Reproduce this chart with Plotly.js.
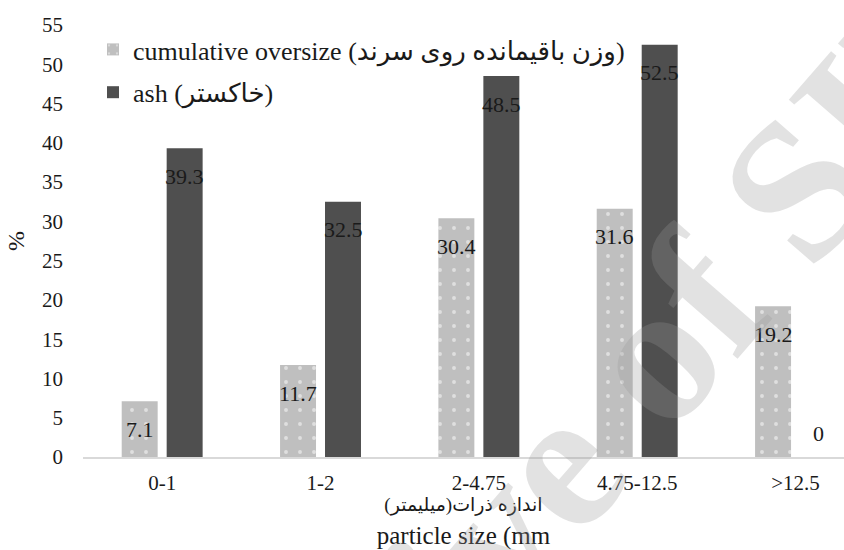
<!DOCTYPE html>
<html>
<head>
<meta charset="utf-8">
<script src="https://cdn.plot.ly/plotly-3.0.1.min.js"></script>
<style>
  html, body { margin: 0; padding: 0; background: #ffffff; }
  #chart { width: 844px; height: 550px; }
</style>
</head>
<body>
<div id="chart"></div>
<script>
// ---- data ----
const categories = ['0-1', '1-2', '2-4.75', '4.75-12.5', '>12.5'];
const cumulativeOversize = [7.1, 11.7, 30.4, 31.6, 19.2];
const ashValues = [39.3, 32.5, 48.5, 52.5, 0];
const seriesNames = ['cumulative oversize (وزن باقیمانده روی سرند)', 'ash (خاکستر)'];
const yTickValues = [0, 5, 10, 15, 20, 25, 30, 35, 40, 45, 50, 55];
const xTitleFa = 'اندازه ذرات(میلیمتر)';
const xTitleEn = 'particle size (mm';
const yTitle = '%';
const watermarkText = 'Archive of SID';

// ---- styles ----
const FONT = 'Liberation Serif, Times New Roman, DejaVu Serif, DejaVu Sans, serif';
const LIGHT = '#bfbfbf';
const DARK = '#4f4f4f';

const traces = [
  {
    type: 'bar', name: seriesNames[0], x: categories, y: cumulativeOversize,
    legendgroup: 'g1',
    marker: {
      color: LIGHT, line: { width: 0 },
      pattern: { shape: '.', fillmode: 'overlay', fgcolor: '#ffffff', size: 14, solidity: 0.06 }
    },
    hoverinfo: 'x+y'
  },
  {
    type: 'bar', name: seriesNames[1], x: categories, y: ashValues,
    legendgroup: 'g2',
    marker: { color: DARK, line: { width: 0 } },
    hoverinfo: 'x+y'
  }
];

// data labels, placed through the axes from the same arrays
const annotations = [];
[[cumulativeOversize, -22.5], [ashValues, 22.5]].forEach(([vals, dx]) => {
  vals.forEach((v, i) => {
    annotations.push({
      x: categories[i], y: v, xref: 'x', yref: 'y',
      text: String(v), showarrow: false,
      xanchor: 'center', yanchor: 'middle',
      xshift: dx, yshift: v > 0 ? -28 : 24,
      font: { family: FONT, size: 22, color: '#1a1a1a' }
    });
  });
});

// watermark
annotations.push({
  xref: 'paper', yref: 'paper', x: 0.627, y: -0.005,
  xanchor: 'center', yanchor: 'middle',
  text: watermarkText, showarrow: false, textangle: -49,
  font: { family: FONT, size: 200, color: 'rgba(150,150,150,0.28)', weight: 'bold' }
});

const layout = {
  width: 844, height: 550,
  margin: { l: 83, r: 0, t: 25, b: 93, pad: 0 },
  paper_bgcolor: '#ffffff', plot_bgcolor: '#ffffff',
  font: { family: FONT, color: '#1a1a1a' },
  barmode: 'group', bargap: 0.432, bargroupgap: 0.2,
  showlegend: true,
  legend: {
    x: (93 - 83) / 761, y: (457 - 26) / 432, xanchor: 'left', yanchor: 'top',
    bgcolor: 'rgba(0,0,0,0)', borderwidth: 0,
    traceorder: 'grouped', tracegroupgap: 6,
    font: { family: FONT, size: 26, color: '#1a1a1a' }
  },
  xaxis: {
    type: 'category', range: [-0.5, 4.306],
    showline: true, linecolor: '#d9d9d9', linewidth: 2,
    showgrid: false, zeroline: false, ticks: '',
    ticklabelstandoff: 6,
    tickfont: { family: FONT, size: 21, color: '#1a1a1a' },
    title: {
      text: '<span style="font-size:19px">' + xTitleFa + '</span><br>' + xTitleEn,
      font: { family: FONT, size: 25, color: '#1a1a1a' },
      standoff: 5
    },
    fixedrange: true
  },
  yaxis: {
    range: [0, 55], tickvals: yTickValues,
    showline: false, showgrid: false, zeroline: false, ticks: '',
    ticklabelstandoff: 19,
    tickfont: { family: FONT, size: 21, color: '#1a1a1a' },
    title: { text: yTitle, font: { family: FONT, size: 24, color: '#1a1a1a' }, standoff: 10 },
    fixedrange: true
  },
  annotations: annotations
};

Plotly.newPlot('chart', traces, layout, { displayModeBar: false, staticPlot: true });
</script>
</body>
</html>
